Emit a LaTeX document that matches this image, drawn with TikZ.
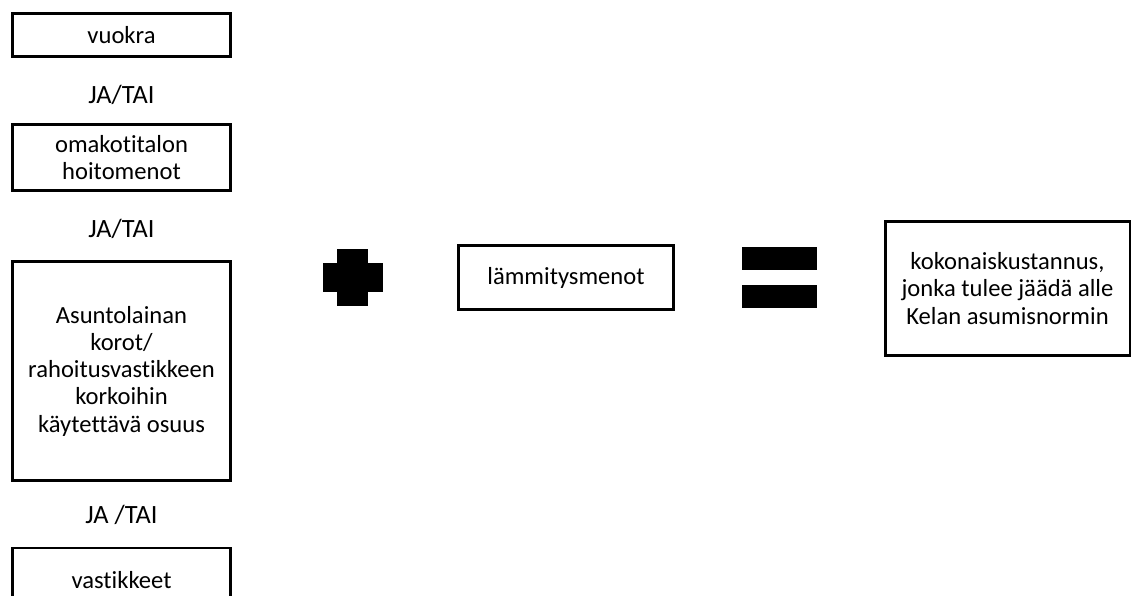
\documentclass[tikz,border=0pt]{standalone}
\usepackage{fontspec}
\setmainfont{Carlito}[Ligatures=NoCommon]
\tikzset{
  costbox/.style={
    draw=black,
    line width=1.7pt,
    fill=white,
    align=center,
    inner sep=2pt,
    font=\fontsize{14}{15.5}\selectfont
  },
  joiner/.style={font=\fontsize{15}{17}\selectfont, inner sep=1pt},
  opbar/.style={fill=black}
}

\begin{document}
\begin{tikzpicture}
  \useasboundingbox (0,0) rectangle (22.62,-11.92);

  % housing costs, left column
  \node[costbox,minimum width=4.36cm,minimum height=0.86cm] (vuokra) at (2.43,-0.70) {vuokra};
  \node[joiner] (jatai1) at (2.43,-1.90) {JA/TAI};
  \node[costbox,minimum width=4.36cm,minimum height=1.32cm] (omakoti) at (2.43,-3.15) {omakotitalon\\hoitomenot};
  \node[joiner] (jatai2) at (2.43,-4.58) {JA/TAI};
  \node[costbox,minimum width=4.36cm,minimum height=4.38cm] (laina) at (2.43,-7.42)
    {Asuntolainan\\korot/\\rahoitusvastikkeen\\korkoihin\\käytettävä osuus};
  \node[joiner] (jatai3) at (2.43,-10.30) {JA /TAI};
  \node[costbox,minimum width=4.36cm,minimum height=1.30cm] (vastikkeet) at (2.43,-11.61) {vastikkeet};

  % plus
  \fill[opbar] (6.74,-4.98) rectangle (7.36,-6.12);
  \fill[opbar] (6.46,-5.26) rectangle (7.66,-5.84);

  \node[costbox,minimum width=4.30cm,minimum height=1.28cm] (lammitys) at (11.32,-5.55) {lämmitysmenot};

  % equals
  \fill[opbar] (14.84,-4.94) rectangle (16.34,-5.40);
  \fill[opbar] (14.84,-5.70) rectangle (16.34,-6.16);

  \node[costbox,minimum width=4.90cm,minimum height=2.68cm] (kokonais) at (20.15,-5.77)
    {kokonaiskustannus,\\jonka tulee jäädä alle\\Kelan asumisnormin};
\end{tikzpicture}
\end{document}
